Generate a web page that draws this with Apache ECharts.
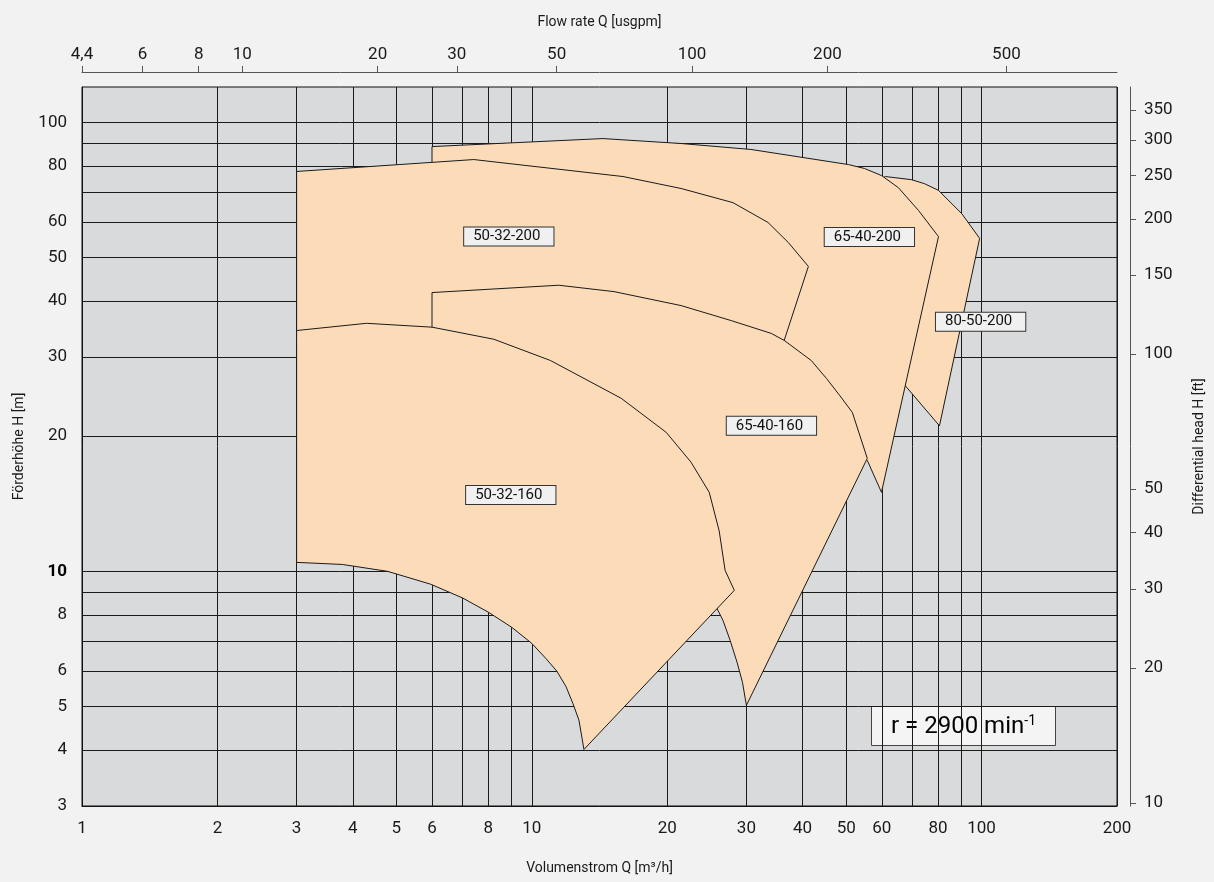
<!DOCTYPE html>
<html><head><meta charset="utf-8">
<script src="https://cdn.jsdelivr.net/npm/echarts@6/dist/echarts.min.js"></script>
<style>html,body{margin:0;padding:0;background:#f2f2f2;} #c{width:1214px;height:882px;}</style>
</head><body><div id="c"></div>
<script>
// unit conversions for secondary axes
const M3H_TO_USGPM = 4.40287;
const M_TO_FT = 3.28084;

// axis ticks
const qTickLabels = [1,2,3,4,5,6,8,10,20,30,40,50,60,80,100,200];
const qGrid = [1,2,3,4,5,6,7,8,9,10,20,30,40,50,60,70,80,90,100,200];
const hTickLabels = [3,4,5,6,8,10,20,30,40,50,60,80,100];
const hGrid = [3,4,5,6,7,8,9,10,20,30,40,50,60,70,80,90,100];
const usgpmTicks = [4.403,6,8,10,20,30,50,100,200,500];
const ftTicks = [10,20,30,40,50,100,150,200,250,300,350];

// pump operating ranges [Q m3/h, H m], drawn bottom layer first
const pump_80_50_200 = [[54.0,70.6],[61.1,75.8],[69.8,74.6],[74.6,73.1],[80.2,70.6],[90.3,62.7],[99.0,55.2],[80.6,21.1],[67.7,25.9],[59.9,40.1]];
const pump_65_40_200 = [[6.0,88.4],[14.39,92.1],[21.47,89.8],[30.7,87.1],[50.6,80.6],[54.9,79.0],[59.9,76.2],[65.3,71.6],[72.4,63.7],[80.2,55.7],[59.9,15.0],[55.7,17.67],[32.4,29.5],[6.0,51.9]];
const pump_50_32_200 = [[3.0,77.8],[7.43,82.7],[15.95,75.8],[21.47,71.3],[28.0,66.3],[33.5,59.9],[37.2,54.0],[41.2,47.8],[36.4,32.7],[14.24,31.9],[6.0,31.9],[3.0,31.9]];
const pump_65_40_160 = [[6.0,41.8],[11.48,43.4],[15.23,42.0],[21.47,39.1],[27.75,36.2],[34.06,33.9],[36.4,32.7],[41.8,29.5],[45.2,26.9],[48.3,24.7],[51.6,22.6],[55.7,17.85],[30.0,5.03],[29.4,5.66],[28.6,6.27],[27.6,7.02],[26.6,7.78],[25.8,8.27],[21.5,10.6],[6.0,29.5]];
const pump_50_32_160 = [[3.0,34.4],[4.29,35.7],[6.0,35.0],[8.23,32.9],[11.0,29.5],[15.8,24.3],[19.9,20.4],[22.6,17.5],[24.8,15.0],[26.1,12.3],[26.9,10.05],[28.2,9.07],[13.06,4.01],[12.73,4.66],[12.34,5.08],[11.91,5.54],[11.37,5.99],[10.74,6.40],[10.0,6.91],[9.03,7.50],[8.02,8.10],[7.02,8.72],[5.96,9.36],[4.78,10.0],[3.79,10.36],[3.0,10.47]];

// labels of the pump ranges
const labelNames = ['50-32-200','65-40-200','80-50-200','50-32-160','65-40-160'];
const labelQ = [8.89, 56.3, 99.5, 8.98, 34.1];
const labelH = [55.7, 55.6, 36.0, 14.8, 21.1];

const FONT = "Roboto, 'Noto Sans', sans-serif";
const TXT = '#1a1a1a';

function polySeries(points) {
  return {
    type: 'custom', coordinateSystem: 'cartesian2d', xAxisIndex: 0, yAxisIndex: 0,
    data: points, encode: {x: 0, y: 1}, clip: false, silent: true,
    renderItem: function (params, api) {
      if (params.dataIndex !== 0) return {type: 'group', children: []};
      return {
        type: 'polygon',
        shape: {points: points.map(p => api.coord(p))},
        style: {fill: '#FCDBB9', stroke: '#1a1a1a', lineWidth: 1}
      };
    }
  };
}

const chart = echarts.init(document.getElementById('c'), null, {renderer: 'canvas'});
chart.setOption({
  animation: false,
  backgroundColor: '#f2f2f2',
  grid: {left: 82, right: 97, top: 87, bottom: 76, show: true, backgroundColor: '#D9DADC', borderColor: '#111', borderWidth: 1},
  xAxis: [
    {
      type: 'log', logBase: 10, min: 1, max: 200, position: 'bottom',
      axisLine: {show: true, lineStyle: {color: '#111'}},
      axisTick: {show: false, customValues: qGrid},
      axisLabel: {customValues: qTickLabels, margin: 14, color: TXT, fontSize: 17, fontFamily: FONT},
      splitLine: {show: true, lineStyle: {color: '#1a1a1a', width: 1}},
      name: 'Volumenstrom Q [m³/h]', nameLocation: 'middle', nameGap: 55,
      nameTextStyle: {color: TXT, fontSize: 14, fontFamily: FONT}
    },
    {
      type: 'log', logBase: 10, min: 1 * M3H_TO_USGPM, max: 200 * M3H_TO_USGPM, position: 'top', offset: 15,
      axisLine: {show: true, lineStyle: {color: '#555'}},
      axisTick: {show: true, inside: false, length: 6, customValues: usgpmTicks, lineStyle: {color: '#555'}},
      axisLabel: {customValues: usgpmTicks, margin: 9, color: TXT, fontSize: 17, fontFamily: FONT,
        formatter: v => v < 5 ? '4,4' : String(Math.round(v))},
      splitLine: {show: false},
      name: 'Flow rate Q [usgpm]', nameLocation: 'middle', nameGap: 43,
      nameTextStyle: {color: TXT, fontSize: 14, fontFamily: FONT}
    }
  ],
  yAxis: [
    {
      type: 'log', logBase: 10, min: 3, max: 120, position: 'left',
      axisLine: {show: true, lineStyle: {color: '#111'}},
      axisTick: {show: false, customValues: hGrid},
      axisLabel: {customValues: hTickLabels, margin: 15, color: TXT, fontSize: 17, fontFamily: FONT,
        formatter: v => Math.round(v) === 10 ? '{b|10}' : String(Math.round(v)),
        rich: {b: {fontWeight: 'bold', fontSize: 17, fontFamily: FONT, color: '#000'}}},
      splitLine: {show: true, lineStyle: {color: '#1a1a1a', width: 1}},
      name: 'Förderhöhe H [m]', nameLocation: 'middle', nameGap: 56,
      nameTextStyle: {color: TXT, fontSize: 14, fontFamily: FONT}
    },
    {
      type: 'log', logBase: 10, min: 3 * M_TO_FT, max: 120 * M_TO_FT, position: 'right', offset: 13,
      axisLine: {show: true, lineStyle: {color: '#555'}},
      axisTick: {show: true, inside: false, length: 6, customValues: ftTicks, lineStyle: {color: '#555'}},
      axisLabel: {customValues: ftTicks, margin: 14, color: TXT, fontSize: 17, fontFamily: FONT},
      splitLine: {show: false},
      name: 'Differential head H [ft]', nameLocation: 'middle', nameGap: 62,
      nameTextStyle: {color: TXT, fontSize: 14, fontFamily: FONT}
    }
  ],
  series: [
    polySeries(pump_80_50_200),
    polySeries(pump_65_40_200),
    polySeries(pump_50_32_200),
    polySeries(pump_65_40_160),
    polySeries(pump_50_32_160),
    {
      type: 'custom', coordinateSystem: 'cartesian2d', xAxisIndex: 0, yAxisIndex: 0,
      data: labelQ.map((q, i) => [q, labelH[i]]), encode: {x: 0, y: 1}, clip: false, silent: true, z: 5,
      renderItem: function (params, api) {
        const c = api.coord([api.value(0), api.value(1)]);
        return {
          type: 'text', x: c[0], y: c[1],
          style: {
            text: labelNames[params.dataIndex], fill: '#111', font: '15px ' + FONT,
            align: 'center', verticalAlign: 'middle',
            backgroundColor: '#F0F0F0', borderColor: '#333', borderWidth: 1, padding: [2, 13, 1, 9]
          }
        };
      }
    }
  ],
  graphic: [
    {
      type: 'group', left: 871, top: 706, z: 10,
      children: [
        {type: 'rect', shape: {x: 0, y: 0, width: 184, height: 39}, style: {fill: '#F4F4F4', stroke: '#444', lineWidth: 1}},
        {type: 'text', x: 92, y: 20, style: {
          text: '{a|r = 2900 min}{s|-1}', align: 'center', verticalAlign: 'middle',
          rich: {a: {fontSize: 24, fontFamily: FONT, color: '#111'}, s: {fontSize: 14, fontFamily: FONT, color: '#111', verticalAlign: 'top'}}
        }}
      ]
    }
  ]
});
</script>
</body></html>
